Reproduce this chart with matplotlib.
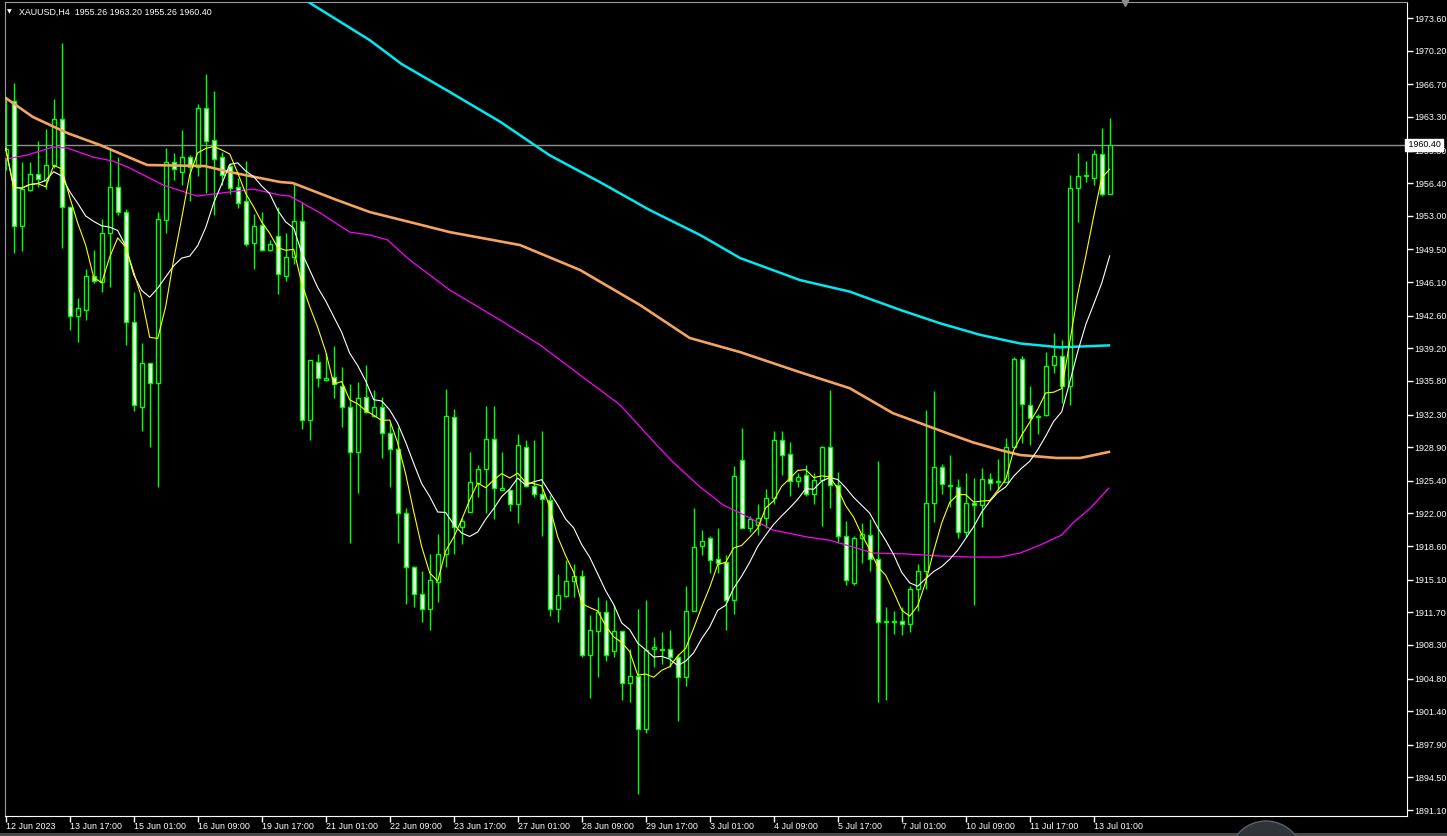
import numpy as np
import pandas as pd
import matplotlib
matplotlib.use("Agg")
import matplotlib.pyplot as plt
from matplotlib.patches import Rectangle, Ellipse

# XAUUSD H4, first visible bar 12 Jun 2023 09:00 (broker time), last 13 Jul 09:00
opens = [1959.0, 1965.0, 1951.9, 1955.7, 1957.35, 1956.7, 1958.3, 1963.05, 1953.95, 1942.55,
         1943.2, 1946.76, 1946.1, 1951.17, 1955.96, 1953.36, 1941.97, 1933.11, 1937.62, 1935.6,
         1952.6, 1958.64, 1957.6, 1959.15, 1958.04, 1964.19, 1960.89, 1959.1, 1958.18, 1955.96,
         1954.5, 1950.2, 1952.0, 1949.4, 1950.9, 1946.76, 1948.67, 1952.49, 1931.72, 1937.8,
         1935.9, 1936.24, 1935.3, 1933.1, 1928.4, 1934.09, 1932.14, 1933.05, 1930.34, 1928.67,
         1922.0, 1916.38, 1913.57, 1912.0, 1914.9, 1917.73, 1932.0, 1920.6, 1922.18, 1925.2,
         1926.6, 1929.71, 1924.4, 1924.43, 1922.97, 1928.95, 1924.9, 1923.98, 1923.4, 1912.0,
         1913.43, 1914.92, 1915.47, 1907.21, 1909.78, 1911.69, 1907.7, 1909.8, 1904.36, 1905.05,
         1899.5, 1907.84, 1907.8, 1907.84, 1907.0, 1904.99, 1911.8, 1918.6, 1919.4, 1917.2,
         1916.9, 1912.97, 1927.52, 1920.44, 1920.8, 1921.5, 1923.56, 1929.6, 1928.18, 1925.37,
         1925.96, 1923.98, 1925.47, 1928.88, 1925.0, 1919.6, 1914.78, 1919.4, 1919.8, 1917.2,
         1910.65, 1910.65, 1910.75, 1910.44, 1914.1, 1916.03, 1923.1, 1926.8, 1924.85, 1924.78,
         1920.02, 1923.1, 1922.87, 1925.54, 1925.3, 1925.3, 1928.88, 1938.05, 1933.33, 1932.0,
         1932.2, 1937.42, 1938.43, 1935.27, 1955.86, 1957.1, 1956.97, 1959.4, 1955.26]
highs = [1965.4, 1966.8, 1958.6, 1958.6, 1960.8, 1962.0, 1965.2, 1971.0, 1954.0, 1944.4,
         1947.5, 1949.4, 1952.7, 1960.1, 1959.1, 1953.7, 1945.1, 1939.7, 1937.7, 1953.4,
         1960.1, 1959.5, 1961.9, 1959.3, 1964.6, 1967.8, 1966.0, 1959.6, 1958.5, 1956.9,
         1958.7, 1953.2, 1953.4, 1950.5, 1953.95, 1951.2, 1956.4, 1954.4, 1937.94, 1938.6,
         1938.7, 1939.4, 1937.2, 1935.5, 1935.7, 1937.5, 1934.85, 1934.1, 1931.4, 1930.96,
         1922.6, 1916.5, 1916.0, 1917.8, 1919.9, 1935.0, 1932.9, 1921.5, 1928.4, 1927.0,
         1933.2, 1933.2, 1928.4, 1924.5, 1930.27, 1929.6, 1929.6, 1930.6, 1923.9, 1915.7,
         1917.1, 1916.7, 1916.1, 1911.4, 1913.3, 1913.0, 1912.45, 1909.8, 1907.9, 1912.0,
         1913.0, 1909.1, 1909.6, 1909.85, 1907.4, 1914.4, 1922.6, 1920.27, 1919.64, 1920.5,
         1917.66, 1926.93, 1930.86, 1921.7, 1923.0, 1924.5, 1930.6, 1930.6, 1929.43, 1926.17,
         1927.0, 1926.24, 1929.0, 1934.9, 1926.27, 1921.2, 1919.6, 1921.0, 1921.4, 1927.45,
         1912.2, 1911.8, 1912.3, 1914.4, 1916.7, 1932.76, 1934.75, 1927.14, 1928.08, 1925.54,
         1926.17, 1925.65, 1926.69, 1926.24, 1927.7, 1929.9, 1938.26, 1938.4, 1935.27, 1932.4,
         1938.85, 1940.8, 1940.06, 1957.25, 1959.58, 1958.7, 1959.85, 1962.1, 1963.2]
lows = [1957.8, 1949.1, 1949.3, 1955.6, 1956.0, 1955.75, 1958.0, 1949.6, 1941.1, 1939.9,
        1942.15, 1945.96, 1945.1, 1945.6, 1953.1, 1939.5, 1932.7, 1930.6, 1928.9, 1924.8,
        1951.2, 1956.7, 1956.2, 1954.5, 1957.1, 1955.4, 1953.1, 1956.2, 1955.3, 1953.8,
        1949.85, 1947.5, 1949.3, 1949.3, 1944.9, 1946.24, 1948.0, 1930.8, 1929.6, 1935.2,
        1935.8, 1933.97, 1931.0, 1918.95, 1924.1, 1932.5, 1932.0, 1927.8, 1924.8, 1918.9,
        1912.6, 1912.2, 1910.7, 1909.9, 1912.8, 1916.45, 1917.8, 1918.8, 1922.1, 1923.7,
        1922.0, 1921.4, 1924.4, 1922.2, 1920.96, 1924.7, 1923.7, 1919.6, 1911.3, 1910.7,
        1913.3, 1913.25, 1907.07, 1902.73, 1905.0, 1906.66, 1907.07, 1902.56, 1902.4, 1892.8,
        1899.15, 1906.0, 1906.3, 1906.0, 1900.4, 1904.0, 1911.8, 1917.66, 1915.82, 1915.75,
        1909.9, 1911.5, 1920.44, 1920.1, 1919.75, 1920.44, 1922.97, 1926.0, 1923.8, 1924.78,
        1923.8, 1922.97, 1920.7, 1922.6, 1918.9, 1914.5, 1914.5, 1916.8, 1916.0, 1902.4,
        1902.56, 1909.4, 1909.3, 1909.67, 1911.86, 1914.08, 1921.1, 1924.0, 1922.7, 1919.4,
        1919.57, 1912.5, 1920.54, 1924.4, 1924.4, 1925.3, 1928.88, 1929.3, 1929.1, 1930.3,
        1932.1, 1936.6, 1933.5, 1933.3, 1952.4, 1956.55, 1956.2, 1955.1, 1955.26]
closes = [1960.0, 1951.9, 1955.75, 1957.35, 1956.8, 1958.3, 1963.05, 1953.95, 1942.6, 1943.35,
          1946.76, 1946.24, 1951.17, 1955.96, 1953.36, 1941.9, 1933.3, 1937.62, 1935.54, 1952.7,
          1958.57, 1957.83, 1959.15, 1958.04, 1964.19, 1960.82, 1958.95, 1957.3, 1955.92, 1954.36,
          1950.1, 1951.93, 1949.4, 1950.1, 1946.9, 1948.67, 1952.49, 1931.72, 1937.94, 1936.07,
          1936.1, 1935.48, 1933.1, 1928.4, 1933.98, 1932.6, 1933.05, 1930.34, 1928.67, 1922.0,
          1916.38, 1913.57, 1912.0, 1915.06, 1917.77, 1932.14, 1920.6, 1921.24, 1925.23, 1926.6,
          1929.71, 1924.6, 1924.6, 1922.94, 1929.09, 1924.9, 1923.98, 1923.46, 1912.0, 1913.5,
          1914.92, 1915.47, 1907.21, 1909.85, 1911.73, 1907.21, 1909.71, 1904.3, 1905.05, 1899.5,
          1907.77, 1908.04, 1907.9, 1907.0, 1904.99, 1911.8, 1918.46, 1919.1, 1917.14, 1916.86,
          1912.97, 1925.92, 1920.44, 1921.4, 1921.5, 1923.6, 1929.6, 1928.04, 1925.37, 1925.8,
          1923.98, 1925.47, 1928.88, 1925.0, 1919.6, 1915.06, 1919.4, 1919.9, 1917.2, 1910.65,
          1910.65, 1910.65, 1910.44, 1914.1, 1916.03, 1923.04, 1926.8, 1925.02, 1924.85, 1920.02,
          1923.1, 1922.9, 1925.54, 1925.13, 1925.3, 1928.88, 1938.05, 1933.4, 1931.9, 1932.0,
          1937.39, 1938.43, 1935.27, 1955.86, 1957.15, 1957.1, 1959.4, 1955.23, 1960.4]

# long moving averages (bar index, price)
cyan_idx = [36.8, 45.5, 49.5, 55.5, 61.8, 68.0, 74.3, 80.5, 86.8, 91.8, 99.3, 105.5, 111.8, 116.8, 121.8, 126.8, 131.8, 137.9]
cyan_val = [1975.8, 1971.3, 1968.8, 1965.9, 1962.8, 1959.3, 1956.5, 1953.6, 1951.0, 1948.6, 1946.3, 1945.1, 1943.2, 1941.8, 1940.6, 1939.7, 1939.3, 1939.5]
orange_idx = [0, 3.4, 7.7, 11.8, 16.8, 17.7, 24.9, 28.0, 34.3, 35.9, 41.4, 45.5, 50.5, 55.5, 64.3, 71.8,
              79.3, 85.5, 91.8, 99.3, 105.5, 110.9, 114.3, 117.7, 120.9, 124.3, 126.8, 131.4, 134.3, 137.9]
orange_val = [1965.27, 1963.29, 1961.62, 1960.37, 1958.6, 1958.29, 1958.18, 1957.56, 1956.52, 1956.41,
              1954.64, 1953.39, 1952.35, 1951.3, 1949.95, 1947.35, 1943.7, 1940.27, 1938.8, 1936.7,
              1935.04, 1932.44, 1931.4, 1930.35, 1929.4, 1928.6, 1928.08, 1927.77, 1927.77, 1928.4]
magenta_idx = [0, 2.7, 5.9, 7.7, 10.9, 13.4, 15.5, 19.7, 23.9, 28.0, 30.9, 34.3, 35.5, 39.3, 43.0, 45.5,
               47.7, 50.5, 55.5, 61.8, 66.8, 71.8, 76.8, 81.4, 83.4, 86.8, 89.7, 91.8, 95.9, 100.2,
               103.0, 105.5, 108.4, 112.7, 116.8, 120.9, 124.3, 126.8, 129.3, 132.0, 133.4, 135.6, 137.9]
magenta_val = [1958.91, 1959.33, 1960.16, 1960.06, 1959.12, 1958.7, 1957.98, 1956.2, 1955.06, 1955.48,
               1955.79, 1955.16, 1955.06, 1953.3, 1951.3, 1951.0, 1950.5, 1948.4, 1945.27, 1942.14,
               1939.54, 1936.41, 1933.3, 1929.1, 1927.35, 1924.75, 1922.87, 1922.04, 1920.27, 1919.54,
               1919.2, 1918.6, 1917.87, 1917.77, 1917.56, 1917.45, 1917.45, 1917.87, 1918.7, 1919.75,
               1921.0, 1922.56, 1924.64]

date_labels = ["12 Jun 2023", "13 Jun 17:00", "15 Jun 01:00", "16 Jun 09:00", "19 Jun 17:00",
               "21 Jun 01:00", "22 Jun 09:00", "23 Jun 17:00", "27 Jun 01:00", "28 Jun 09:00",
               "29 Jun 17:00", "3 Jul 01:00", "4 Jul 09:00", "5 Jul 17:00", "7 Jul 01:00",
               "10 Jul 09:00", "11 Jul 17:00", "13 Jul 01:00"]
price_labels = ["1973.60", "1970.20", "1966.70", "1963.30", "1959.80", "1956.40", "1953.00", "1949.50",
                "1946.10", "1942.60", "1939.20", "1935.80", "1932.30", "1928.90", "1925.40", "1922.00",
                "1918.60", "1915.10", "1911.70", "1908.30", "1904.80", "1901.40", "1897.90", "1894.50",
                "1891.10"]
bid = 1960.40
title = "XAUUSD,H4  1955.26 1963.20 1955.26 1960.40"

plt.rcParams["font.family"] = ["Liberation Sans", "DejaVu Sans"]
FS = 6.4

W, H = 1447, 836
fig = plt.figure(figsize=(W / 100, H / 100), dpi=100, facecolor="black")
# axes box in pixels: left 4.5, right 1406.5, top 2, bottom 815.5
ax = fig.add_axes([4.5 / W, (H - 815.5) / H, 1402 / W, 813.5 / H])
ax.set_facecolor("black")

n = len(closes)
x = np.arange(n)
o = np.array(opens); h = np.array(highs); l = np.array(lows); c = np.array(closes)

lime = "#00ff00"
ax.vlines(x, l, h, color=lime, lw=1, zorder=2)
up = c >= o
body_lo = np.minimum(o, c)
body_h = np.maximum(np.abs(c - o), 0.12)
ax.bar(x[up], body_h[up], bottom=body_lo[up], width=0.55, facecolor="black",
       edgecolor=lime, linewidth=1, zorder=3)
ax.bar(x[~up], body_h[~up], bottom=body_lo[~up], width=0.55, facecolor="white",
       edgecolor=lime, linewidth=1, zorder=3)

s = pd.Series(closes)
ma5 = s.rolling(5, min_periods=1).mean()
ma10 = s.rolling(10, min_periods=1).mean()

ax.plot(cyan_idx, cyan_val, color="#00e8f0", lw=1.8, zorder=4)
ax.plot(orange_idx, orange_val, color="#f4a460", lw=1.9, zorder=4)
ax.plot(magenta_idx, magenta_val, color="#ff00ff", lw=0.9, zorder=4)
ax.plot(x, ma10, color="white", lw=0.8, zorder=5)
ax.plot(x, ma5, color="yellow", lw=0.8, zorder=5)

ax.axhline(bid, color="#909090", lw=1, zorder=1)

ax.set_xlim(-0.15, 175.1)
ax.set_ylim(1890.53, 1975.27)

# axes frame
for side in ["right", "bottom"]:
    ax.spines[side].set_color("white")
for side in ["left", "top"]:
    ax.spines[side].set_color("#9a9a9a")

ax.yaxis.tick_right()
ax.set_yticks([float(v) for v in price_labels])
ax.set_yticklabels(price_labels)
ax.set_xticks(np.arange(0, 8 * len(date_labels), 8))
ax.set_xticklabels(date_labels)
ax.tick_params(axis="y", colors="white", length=4, width=1, pad=1.5, labelsize=FS)
ax.tick_params(axis="x", colors="white", length=4, width=1, pad=1, labelsize=FS)
for lab in ax.get_xticklabels():
    lab.set_horizontalalignment("left")

# current price tag on the scale
ax.text(1.0, bid, f" {bid:.2f}", transform=ax.get_yaxis_transform(),
        ha="left", va="center", fontsize=FS, color="black", clip_on=False, zorder=10,
        bbox=dict(boxstyle="square,pad=0.15", facecolor="white", edgecolor="white"))

# symbol line top left
fig.text(7 / W, 1 - 12 / H, "\u25bc", color="white", fontsize=4.5, va="center",
         family="DejaVu Sans")
fig.text(19 / W, 1 - 12 / H, title, color="white", fontsize=FS, va="center")

# chart shift marker
ax.plot([139.9], [1975.27], marker="v", color="#8c8c8c", markersize=6, clip_on=False, zorder=6)

# bottom strip and the round widget in the corner
fig.patches.append(Rectangle((0, 0), 1, 3.5 / H, transform=fig.transFigure,
                             facecolor="#4a4a4a", edgecolor="none", zorder=0))
fig.patches.append(Ellipse((1266 / W, -22 / H), 74 / W, 74 / H, transform=fig.transFigure,
                           facecolor="#2f3438", edgecolor="#5a6066", lw=1, zorder=1))

fig.savefig("out.png", dpi=100, facecolor="black")
